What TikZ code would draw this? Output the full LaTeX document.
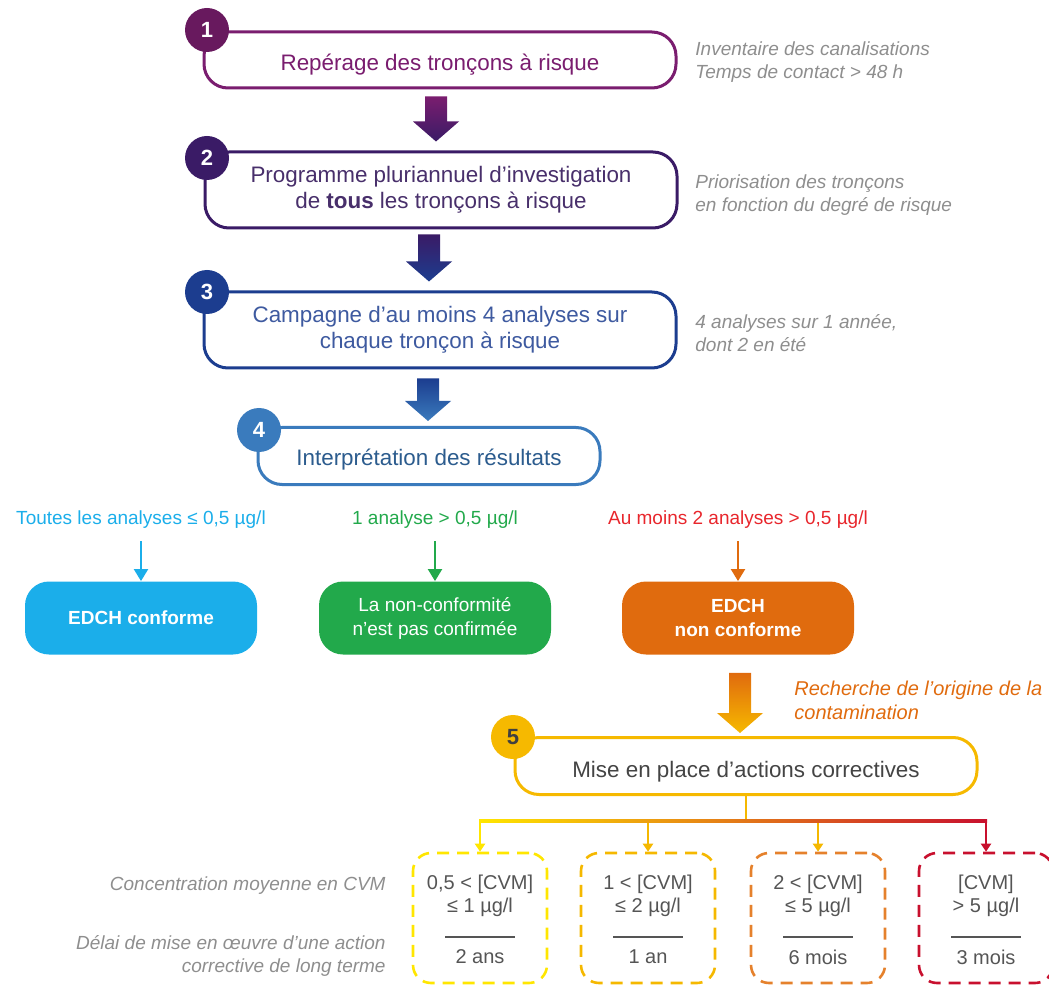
\documentclass[tikz,border=0pt]{standalone}
\usepackage{fontspec}
\setmainfont{Liberation Sans}
\usepackage{tikz}
\usetikzlibrary{arrows.meta,calc,positioning}

\definecolor{cpurple}{HTML}{7A1D6F}
\definecolor{cindigo}{HTML}{3A1B66}
\definecolor{cnavy}{HTML}{1C3D8F}
\definecolor{csteel}{HTML}{3A7BBD}
\definecolor{camber}{HTML}{F6B900}
\definecolor{cside}{HTML}{8E8E8E}
\definecolor{ccyan}{HTML}{1BAEEA}
\definecolor{cgreen}{HTML}{22A94B}
\definecolor{cburnt}{HTML}{E06B0E}
\definecolor{cred}{HTML}{E8262C}
\definecolor{cyel}{HTML}{FFE600}
\definecolor{cgold}{HTML}{F5B800}
\definecolor{corange}{HTML}{E5812C}
\definecolor{cdeep}{HTML}{C8102E}
\definecolor{ctext}{HTML}{555555}

\newcommand{\bigdown}[7]{%
  \shade[top color=#6, bottom color=#7]
    let \p1 = ($(#1.south -| #3,0)+(0,#4)$), \p2 = ($(#2.north -| #3,0)-(0,#5)$) in
    (\x1-5.5pt,\y1) -- (\x1+5.5pt,\y1) -- (\x1+5.5pt,\y2+10pt) -- (\x1+11.5pt,\y2+10pt)
    -- (\x2,\y2) -- (\x1-11.5pt,\y2+10pt) -- (\x1-5.5pt,\y2+10pt) -- cycle;}

\begin{document}
\begin{tikzpicture}[x=0.5pt, y=-0.5pt,
    box/.style={rectangle, draw, fill=white, line width=1.5pt, rounded corners=12pt,
                minimum width=236pt, minimum height=38pt, align=center, inner sep=2pt,
                font=\fontsize{11.2}{13}\selectfont},
    oneline/.style={text height=11pt, text depth=0pt},
    num/.style={circle, minimum size=22pt, inner sep=0pt, text=white,
                font=\bfseries\fontsize{11}{11}\selectfont},
    note/.style={anchor=west, align=left, text=cside, inner sep=0pt,
                font=\itshape\fontsize{9.5}{11.5}\selectfont},
    legend/.style={note, anchor=east, align=right},
    cond/.style={font=\fontsize{9.5}{11}\selectfont, inner sep=2pt},
    result/.style={rectangle, rounded corners=12pt, minimum width=116pt, minimum height=36.5pt,
                text=white, align=center, font=\fontsize{9.5}{12}\selectfont},
    condarr/.style={-{Triangle[width=7pt,length=6pt]}, line width=1pt, shorten <=4pt},
    level/.style={rectangle, draw, line width=1.3pt, dash pattern=on 6pt off 4pt,
                rounded corners=9pt, minimum width=67pt, minimum height=65pt},
    leveltxt/.style={text=ctext, align=center, inner sep=0pt, font=\fontsize{10}{11.5}\selectfont},
    drop/.style={-{Triangle[width=5pt,length=4pt]}, line width=1pt},
  ]
  \useasboundingbox (0,0) rectangle (1049,989);

  \node[box, oneline, draw=cpurple, text=cpurple, minimum height=28pt] (b1) at (440,60) {Repérage des tronçons à risque};
  \node[box, draw=cindigo, text=cindigo!80!gray] (b2) at (441,190) {Programme pluriannuel d’investigation\\de \textbf{tous} les tronçons à risque};
  \node[box, draw=cnavy, text=cnavy!85!white] (b3) at (440,330) {Campagne d’au moins 4 analyses sur\\chaque tronçon à risque};
  \node[box, draw=csteel, text=csteel!75!black, minimum width=171pt, minimum height=28.5pt,
        text height=9.5pt, text depth=0pt] (b4) at (429,456) {Interprétation des résultats};

  \node[num, fill=cpurple!85!black] (n1) at (207,30) {1};
  \node[num, fill=cindigo] (n2) at (207,158) {2};
  \node[num, fill=cnavy] (n3) at (207,292) {3};
  \node[num, fill=csteel] (n4) at (259,430) {4};

  \bigdown{b1}{b2}{436}{7}{9}{cpurple}{cindigo}
  \bigdown{b2}{b3}{429}{5}{9}{cindigo}{cnavy}
  \bigdown{b3}{b4}{428}{9}{5}{cnavy}{csteel}

  \node[note] (s1) at (695,62) {Inventaire des canalisations\\Temps de contact > 48 h};
  \node[note] (s2) at (695,195) {Priorisation des tronçons\\en fonction du degré de risque};
  \node[note] (s3) at (695,333) {4 analyses sur 1 année,\\dont 2 en été};

  \node[cond, text=ccyan] (k1) at (141,520) {Toutes les analyses ≤ 0,5 µg/l};
  \node[cond, text=cgreen] (k2) at (435,520) {1 analyse > 0,5 µg/l};
  \node[cond, text=cred] (k3) at (738,520) {Au moins 2 analyses > 0,5 µg/l};

  \node[result, fill=ccyan, font=\bfseries\fontsize{9.5}{12}\selectfont] (r1) at (141,618) {EDCH conforme};
  \node[result, fill=cgreen] (r2) at (435,618) {La non-conformité\\n’est pas confirmée};
  \node[result, fill=cburnt, font=\bfseries\fontsize{9.5}{12}\selectfont] (r3) at (738,618) {EDCH\\non conforme};

  \draw[condarr, ccyan] (k1.south) -- (r1.north);
  \draw[condarr, cgreen] (k2.south) -- (r2.north);
  \draw[condarr, cburnt] (k3.south) -- (r3.north);

  \node[box, oneline, draw=camber, text=ctext!80!black, minimum width=231pt, minimum height=28.5pt] (b5) at (746,766) {Mise en place d’actions correctives};
  \node[num, fill=camber, text=black!75] (n5) at (513,737) {5};
  \bigdown{r3}{b5}{740}{18}{3}{cburnt}{camber}
  \node[note, text=cburnt, font=\itshape\fontsize{10}{12}\selectfont] (s4) at (794,700) {Recherche de l’origine de la\\contamination};

  \coordinate (split) at ($(b5.south)+(0,25)$);
  \draw[line width=1pt, cgold] (b5.south) -- (split);

  \foreach \n/\xx/\col/\dcol/\ta/\tb/\tc in {a/480/cyel/cyel/{0,5 < [CVM]}/{≤ 1 µg/l}/{2 ans},
      b/648/cgold/cgold/{1 < [CVM]}/{≤ 2 µg/l}/{1 an},
      c/818/corange/cgold/{2 < [CVM]}/{≤ 5 µg/l}/{6 mois},
      d/986/cdeep/cdeep/{[CVM]}/{> 5 µg/l}/{3 mois}} {
    \node[level, draw=\col] (d\n) at (\xx,918) {};
    \node[leveltxt] (t\n) at (\xx,896) {\ta\\\tb};
    \draw[ctext, line width=0.8pt] (\xx-35,937) -- (\xx+35,937);
    \node[leveltxt] (u\n) at (\xx,957) {\tc};
    \draw[drop, \dcol] (split) -| (d\n.north);
  }
  \shade[left color=cyel, middle color=cgold, right color=cdeep]
    ($(da.north |- split)+(-1,-1.1)$) rectangle ($(dd.north |- split)+(1,1.1)$);

  \node[legend] (l1) at (386,886) {Concentration moyenne en CVM};
  \node[legend] (l2) at (386,956) {Délai de mise en œuvre d’une action\\corrective de long terme};
\end{tikzpicture}
\end{document}
